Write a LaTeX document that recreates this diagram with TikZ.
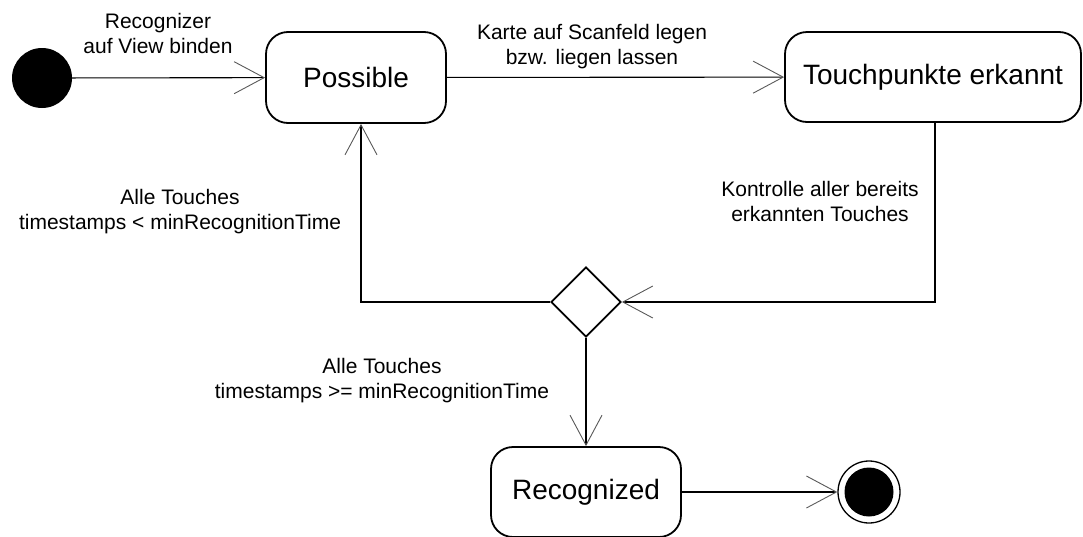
\documentclass[tikz,border=0pt]{standalone}
\usepackage{fontspec}
\setmainfont{Liberation Sans}
\usetikzlibrary{shapes.geometric,arrows.meta}
\tikzset{
  statebox/.style={draw, line width=1.8pt, rounded corners=22pt, inner sep=0pt,
    font=\fontsize{28}{33}\selectfont},
  guard/.style={align=center, inner sep=0pt, font=\fontsize{21}{25}\selectfont},
  arr/.style={line width=1.1pt,
    -{Straight Barb[length=30pt, width=32pt, line width=0.9pt, color=black!65]}},
}
\begin{document}
\begin{tikzpicture}[x=1pt, y=-1pt]
\useasboundingbox (0,0) rectangle (1083,536);

% states
\node[circle, fill=black, minimum size=60pt, inner sep=0pt] (init) at (42,78) {};
\node[statebox, minimum width=180pt, minimum height=91pt] (pos) at (356,77.5) {Possible};
\node[statebox, minimum width=296pt, minimum height=90pt] (tp) at (933,77) {Touchpunkte erkannt};
\node[diamond, draw, line width=1.8pt, minimum width=70pt, minimum height=70pt, inner sep=0pt] (dec) at (586,302) {};
\node[statebox, minimum width=190pt, minimum height=90pt] (rec) at (586,492) {Recognized};
\node[circle, draw, line width=1.3pt, minimum size=62pt, inner sep=0pt] (fin) at (869,492) {};
\fill (fin.center) circle (24.5pt);

% transitions
\draw[arr] (init) -- (pos);
\draw[arr] (pos) -- (tp);
\draw[arr] ([xshift=2]tp.south) |- (dec.east);
\draw[arr] (dec.west) -| ([xshift=5]pos.south);
\draw[arr] (dec.south) -- (rec.north);
\draw[arr] (rec.east) -- (fin.west);

% guard labels
\node[guard] (l1) at (158,33) {Recognizer\\auf View binden};
\node[guard] (l2) at (592,47) {Karte auf Scanfeld legen\\bzw. liegen lassen};
\node[guard] (l3) at (180,212) {Alle Touches\\timestamps < minRecognitionTime};
\node[guard] (l4) at (820,201) {Kontrolle aller bereits\\erkannten Touches};
\node[guard] (l5) at (382,381) {Alle Touches\\timestamps >= minRecognitionTime};
\end{tikzpicture}
\end{document}
